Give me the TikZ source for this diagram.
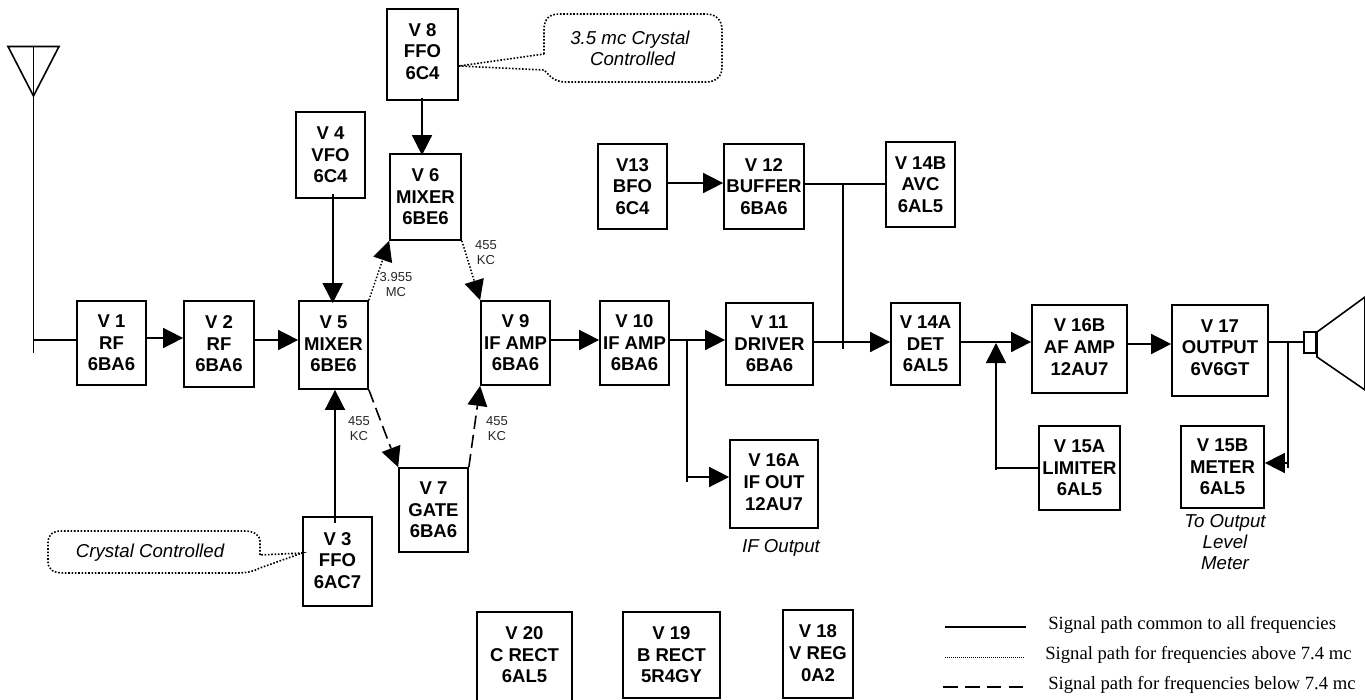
\documentclass[tikz,border=0pt]{standalone}
\usepackage{fontspec}
\setmainfont{Liberation Sans}
\newfontfamily\legendfont{Liberation Serif}
\usetikzlibrary{arrows.meta,calc}
\tikzset{
  tube/.style={draw=black,line width=1.3pt,inner sep=0pt,align=center,fill=white,font=\bfseries\fontsize{13.9}{16.2}\selectfont},
  tubetext/.style={inner sep=0pt,align=center,font=\bfseries\fontsize{13.9}{16.2}\selectfont},
  note/.style={inner sep=0pt,align=center,font=\itshape\fontsize{14}{15.75}\selectfont},
  freq/.style={inner sep=0pt,align=center,text=black!85,font=\fontsize{9.75}{11.25}\selectfont},
  legendtext/.style={inner sep=0pt,anchor=west,font=\legendfont\fontsize{14}{16}\selectfont},
  sig/.style={line width=1.2pt,-{Triangle[length=15pt,width=15pt]}},
  wire/.style={line width=1.2pt},
  dotsig/.style={line width=1.1pt,dash pattern=on 1.1pt off 1.4pt,-{Triangle[length=15pt,width=15pt,line width=0pt]}},
  dashsig/.style={line width=1.2pt,dash pattern=on 10pt off 4.5pt,-{Triangle[length=15pt,width=15pt,line width=0pt]}},
  callout/.style={line width=1.2pt,dash pattern=on 1.2pt off 1.3pt},
  outline/.style={line width=1.2pt}
}
\newcommand{\vtube}[7][]{%
  \pgfmathsetmacro\bw{(#5-#3)*0.75}\pgfmathsetmacro\bh{(#6-#4)*0.75}%
  \node[tube,minimum width=\bw pt,minimum height=\bh pt,#1] (#2) at ({(#3+#5)/2},{(#4+#6)/2}) {#7};}
\begin{document}
\begin{tikzpicture}[x=0.75pt,y=-0.75pt]
\useasboundingbox (0,0) rectangle (1365,700);
% tubes
\vtube{v1}{77}{301}{146}{385}{V 1\\RF\\6BA6}
\vtube{v2}{184}{301}{254}{387}{V 2\\RF\\6BA6}
\vtube[text depth=1.5pt]{v5}{299}{301}{368}{389}{V 5\\MIXER\\6BE6}
\vtube{v4}{296}{112}{365}{198}{V 4\\VFO\\6C4}
\vtube[text depth=4.5pt]{v8}{387}{9}{458}{100}{V 8\\FFO\\6C4}
\vtube{v6}{390}{154}{461}{240}{V 6\\MIXER\\6BE6}
\vtube[text depth=1.5pt]{v3}{303}{517}{372}{606}{V 3\\FFO\\6AC7}
\vtube{v7}{399}{468}{468}{552}{V 7\\GATE\\6BA6}
\vtube{v9}{481}{301}{550}{385}{V 9\\IF AMP\\6BA6}
\vtube{v10}{600}{301}{669}{385}{V 10\\IF AMP\\6BA6}
\vtube{v11}{726}{303}{813}{385}{V 11\\DRIVER\\6BA6}
\vtube{v13}{598}{144}{667}{229}{V13\\BFO\\6C4}
\vtube{v12}{724}{144}{804}{229}{V 12\\BUFFER\\6BA6}
\vtube{v14b}{886}{142}{955}{227}{V 14B\\AVC\\6AL5}
\vtube{v14a}{891}{303}{960}{385}{V 14A\\DET\\6AL5}
\vtube[text depth=3pt]{v16b}{1032}{305}{1127}{393}{V 16B\\AF AMP\\12AU7}
\vtube[text depth=4.5pt]{v17}{1172}{305}{1268}{396}{V 17\\OUTPUT\\6V6GT}
\vtube{v15a}{1039}{426}{1120}{510}{V 15A\\LIMITER\\6AL5}
\vtube{v15b}{1181}{426}{1264}{508}{V 15B\\METER\\6AL5}
\vtube[text depth=3pt]{v16a}{730}{440}{818}{528}{V 16A\\IF OUT\\12AU7}
\vtube{v20}{477}{612}{572}{712}{}
\node[tubetext] (v20t) at (524.5,655) {V 20\\C RECT\\6AL5};
\vtube{v19}{623}{612}{720}{698}{V 19\\B RECT\\5R4GY}
\vtube[text depth=1.5pt]{v18}{783}{610}{853}{698}{V 18\\V REG\\0A2}
% antenna
\coordinate (anttip) at (33.5,96);
\coordinate (anttop) at (33.5,46.5);
\coordinate (antbot) at (33.5,353);
\draw[outline,line join=miter] (8,46.5) -- (59,46.5) -- (anttip) -- cycle;
\draw[wire] (anttop) -- (antbot);
\coordinate (antj) at (33.5,340);
\draw[wire] (antj) -- (v1.west |- antj);
% solid signal path
\draw[sig] (v1.east |- 0,338) -- (v2.west |- 0,338);
\draw[sig] (v2.east |- 0,340) -- (v5.west |- 0,340);
\draw[sig] ($(v4.south -| 332.7,0)+(0,-5)$) -- ($(v5.north -| 332.7,0)+(0,3)$);
\draw[sig] ($(v8.south -| 422,0)+(0,-3)$) -- ($(v6.north -| 422,0)+(0,2)$);
\draw[sig] ($(v3.north -| 335,0)+(0,7)$) -- (v5.south -| 335,0);
\draw[sig] (v9.east |- 0,340) -- (v10.west |- 0,340);
\draw[sig] (v10.east |- 0,340) -- (v11.west |- 0,340);
\coordinate (ifj) at (687,340);
\coordinate (ifk) at (687,482);
\draw[wire] (ifj) -- (ifk);
\draw[sig] (687,477) -- (v16a.west |- 0,477);
\draw[sig] (v13.east |- 0,183) -- (v12.west |- 0,183);
\draw[wire] (v12.east |- 0,184) -- (v14b.west |- 0,184);
\coordinate (avcj) at (843,184);
\coordinate (avck) at (843,349);
\draw[wire] (avcj) -- (avck);
\draw[sig] (v11.east |- 0,342) -- (v14a.west |- 0,342);
\draw[sig] (v14a.east |- 0,342) -- (v16b.west |- 0,342);
\coordinate (limj) at (996,343);
\coordinate (limk) at (996,470);
\draw[sig] (limk) -- (limj);
\draw[wire] (996,467.7) -- (v15a.west |- 0,467.7);
\draw[sig] (v16b.east |- 0,344) -- (v17.west |- 0,344);
% speaker
\node[draw=black,line width=1.1pt,inner sep=0pt,minimum width=9pt,minimum height=15.75pt] (spk) at (1310,342.5) {};
\draw[wire] (v17.east |- 0,342) -- (spk.west |- 0,342);
\coordinate (metj) at (1288,342);
\coordinate (metk) at (1288,468);
\draw[wire] (metj) -- (metk);
\draw[sig] (1288,463) -- (v15b.east |- 0,463);
\draw[outline,line join=miter] (1317,332) -- (1365,297) -- (1365,390) -- (1317,357) -- cycle;
% dotted paths
\draw[dotsig] (v5.north east) -- (v6.south west);
\draw[dotsig] (v6.south east) -- (v9.north west);
% dashed paths
\draw[dashsig] (v5.south east) -- (v7.north west);
\draw[dashsig] (v7.north east) -- (v9.south west);
% frequency labels
\node[freq] (f1) at (396,284.5) {3.955\\MC};
\node[freq] (f2) at (486,252.5) {455\\KC};
\node[freq] (f3) at (359,429) {455\\KC};
\node[freq] (f4) at (497,429) {455\\KC};
% callouts
\draw[callout] (544,54) -- (544,30) .. controls (544,18) and (550,14) .. (560,14) -- (706,14) .. controls (716,14) and (722,20) .. (722,30) -- (722,68) .. controls (722,76) and (716,82) .. (706,82) -- (566,82) .. controls (554,82) and (550,76) .. (544,70) -- (v8.east |- 0,66) -- cycle;
\node[note] (c1) at (630,48.5) {3.5 mc Crystal\\~Controlled};
\draw[callout] (260,555) -- (260,541) .. controls (260,535) and (254,531) .. (244,531) -- (62,531) .. controls (52,531) and (48,535) .. (48,543) -- (48,562) .. controls (48,570) and (54,573) .. (64,573) -- (236,573) .. controls (248,573) and (254,571) .. (260,568) -- (v3.west |- 0,553) -- cycle;
\node[note] (c2) at (150,553) {Crystal Controlled};
\node[note] (n1) at (781,548) {IF Output};
\node[note] (n2) at (1225,542) {To Output\\Level\\Meter};
% legend
\coordinate (la) at (945,627); \coordinate (lb) at (1026,627);
\coordinate (lc) at (945,657); \coordinate (ld) at (1024,657);
\coordinate (le) at (943,687); \coordinate (lf) at (1024,687);
\draw[wire] (la) -- (lb);
\draw[line width=0.6pt,dash pattern=on 0.75pt off 0.75pt] (lc) -- (ld);
\draw[wire,dash pattern=on 11pt off 5.4pt] (le) -- (lf);
\node[legendtext] (t1) at (1048,624.5) {Signal path common to all frequencies};
\node[legendtext] (t2) at (1045,654.5) {Signal path for frequencies above 7.4 mc};
\node[legendtext] (t3) at (1048,684.5) {Signal path for frequencies below 7.4 mc};
\end{tikzpicture}
\end{document}
